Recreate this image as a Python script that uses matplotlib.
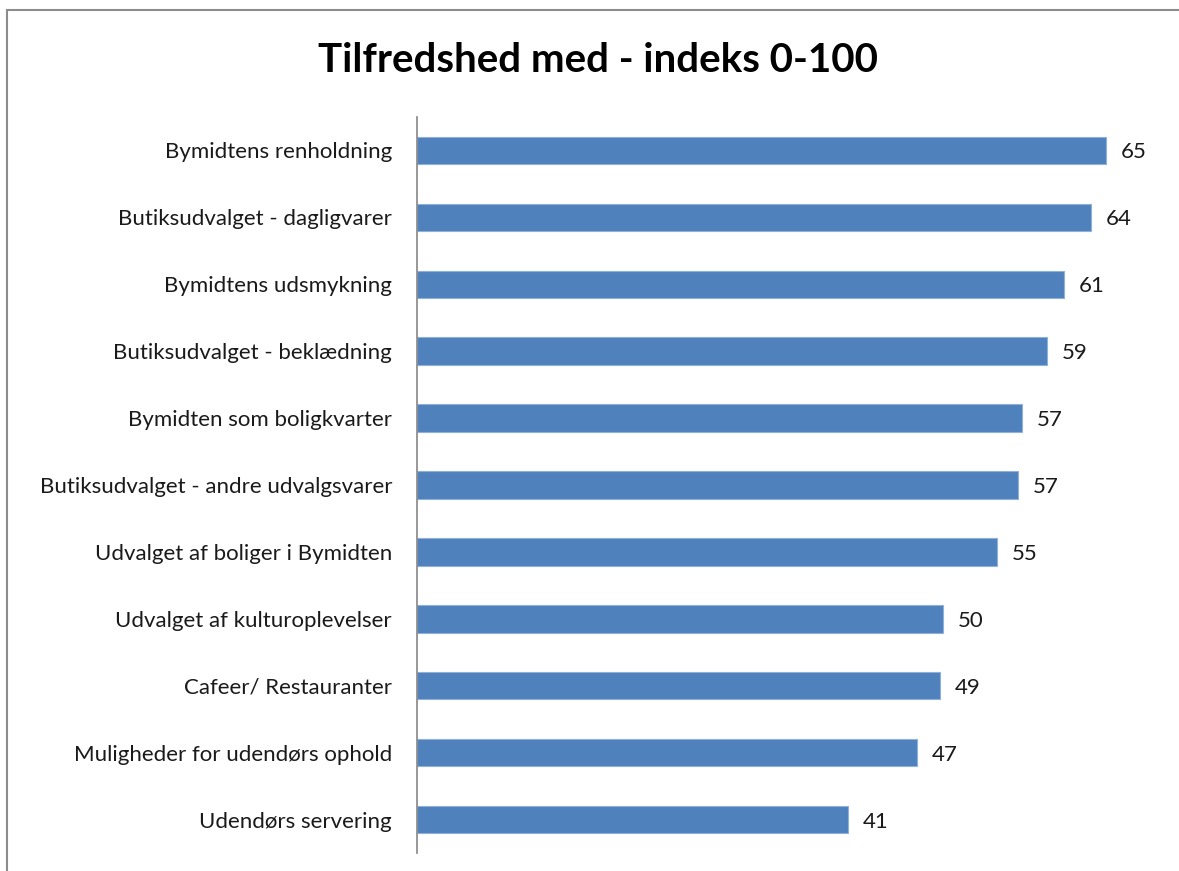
import matplotlib
matplotlib.use('Agg')
import matplotlib.pyplot as plt
from matplotlib.patches import Rectangle

plt.rcParams['font.family'] = ['Lato', 'DejaVu Sans']

# data (top to bottom as shown); bar lengths
categories = [
    'Bymidtens renholdning',
    'Butiksudvalget - dagligvarer',
    'Bymidtens udsmykning',
    'Butiksudvalget - beklædning',
    'Bymidten som boligkvarter',
    'Butiksudvalget - andre udvalgsvarer',
    'Udvalget af boliger i Bymidten',
    'Udvalget af kulturoplevelser',
    'Cafeer/ Restauranter',
    'Muligheder for udendørs ophold',
    'Udendørs servering',
]
values = [65.0, 63.6, 61.0, 59.4, 57.1, 56.7, 54.7, 49.6, 49.3, 47.2, 40.7]
title = 'Tilfredshed med - indeks 0-100'

W, H = 1179, 871
fig = plt.figure(figsize=(W / 100, H / 100), dpi=100)

# outer chart frame (cut off at right and bottom like the screenshot)
fig.patches.append(Rectangle((7 / W, -0.05), 1.2, (H - 10) / H + 0.05,
                             transform=fig.transFigure, fill=False,
                             edgecolor='#8c8c8c', linewidth=1.5))

ax = fig.add_axes([417 / W, (H - 853) / H, 742 / W, (853 - 117) / H])

pos = list(range(len(categories)))[::-1]
ax.barh(pos, values, height=0.41, color='#4f81bd', edgecolor='#8fb0d8', linewidth=0.8)
for p, v in zip(pos, values):
    ax.text(v + 1.4, p, f'{v:.0f}', va='center_baseline', ha='left', fontsize=16, color='#1a1a1a')

ax.set_xlim(0, 70)
ax.set_ylim(-0.5, len(categories) - 0.5)
ax.set_yticks(pos)
ax.set_yticklabels(categories, fontsize=16, color='#1a1a1a', va='center_baseline')
ax.tick_params(axis='y', length=0, pad=18)
ax.set_xticks([])
for s in ['top', 'right', 'bottom']:
    ax.spines[s].set_visible(False)
ax.spines['left'].set_color('#868686')
ax.spines['left'].set_linewidth(1.2)

fig.text(598 / W, 1 - 60 / H, title, ha='center', va='center',
         fontsize=29, fontweight='bold', color='black')

fig.savefig('out.png', dpi=100)
